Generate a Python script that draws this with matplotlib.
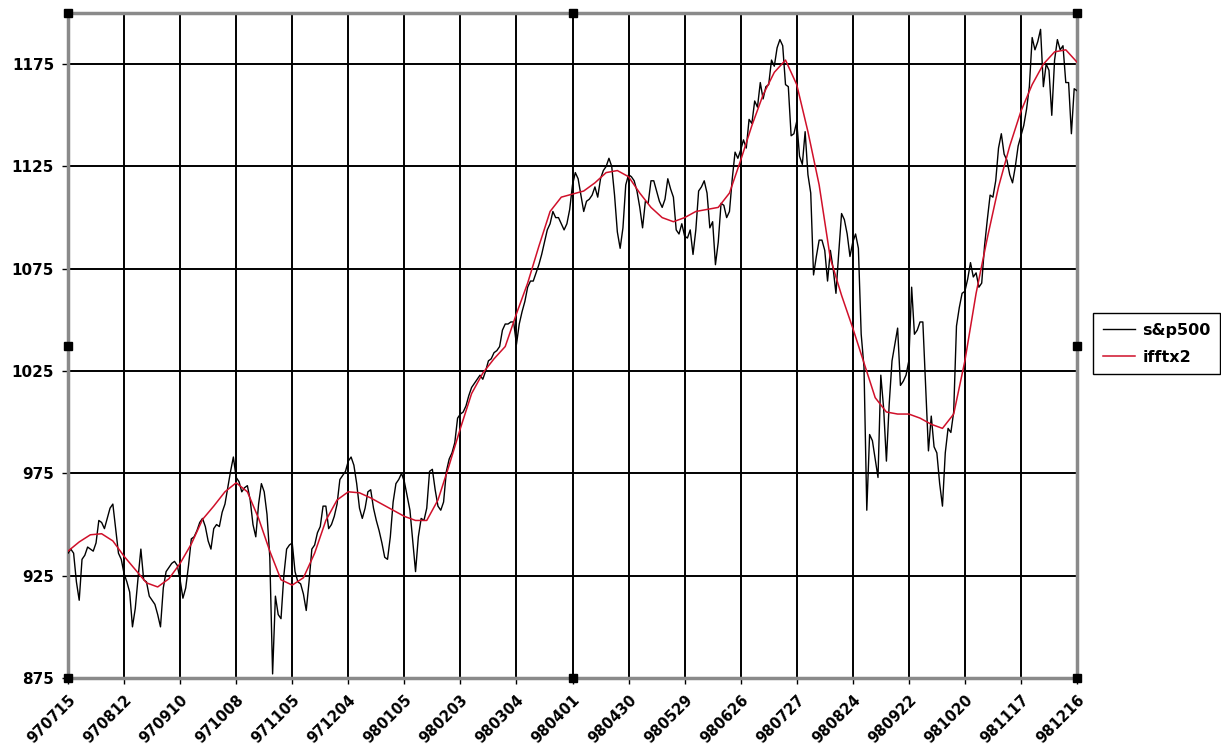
import matplotlib
matplotlib.use("Agg")
import matplotlib.pyplot as plt

plt.rcParams['font.family'] = ['DejaVu Sans']
plt.rcParams['font.weight'] = 'bold'

# trading-day tick labels, one every 20 sessions
tick_labels = ['970715', '970812', '970910', '971008', '971105', '971204',
               '980105', '980203', '980304', '980401', '980430', '980529',
               '980626', '980727', '980824', '980922', '981020', '981117',
               '981216']
tick_step = 20

# daily closes, one value per session
sp500 = [
    936, 938, 936, 922, 913, 933, 935, 939, 938, 937,
    941, 952, 951, 948, 953, 958, 960, 948, 936, 933,
    926, 922, 917, 900, 909, 924, 938, 923, 922, 915,
    913, 911, 906, 900, 919, 927, 929, 931, 932, 930,
    923, 914, 919, 930, 943, 944, 947, 951, 953, 949,
    942, 938, 948, 950, 949, 956, 960, 968, 976, 983,
    973, 971, 966, 968, 969, 962, 950, 944, 960, 970,
    966, 955, 934, 877, 915, 906, 904, 925, 938, 940,
    941, 927, 922, 921, 916, 908, 922, 938, 940, 946,
    949, 959, 959, 948, 950, 954, 960, 972, 974, 976,
    981, 983, 979, 970, 958, 953, 958, 966, 967, 958,
    952, 947, 941, 934, 933, 944, 961, 970, 972, 975,
    971, 964, 957, 942, 927, 944, 953, 952, 958, 976,
    977, 967, 959, 957, 961, 976, 982, 985, 990, 1002,
    1004, 1005, 1008, 1013, 1017, 1019, 1021, 1023, 1021, 1025,
    1030, 1031, 1034, 1035, 1037, 1045, 1048, 1048, 1049, 1049,
    1038, 1048, 1054, 1059, 1066, 1069, 1069, 1073, 1077, 1082,
    1088, 1094, 1097, 1103, 1100, 1100, 1097, 1094, 1097, 1104,
    1116, 1122, 1119, 1111, 1103, 1108, 1109, 1111, 1115, 1110,
    1119, 1123, 1125, 1129, 1125, 1111, 1093, 1085, 1095, 1116,
    1121, 1120, 1118, 1113, 1105, 1095, 1108, 1107, 1118, 1118,
    1113, 1108, 1105, 1109, 1119, 1114, 1110, 1094, 1092, 1097,
    1091, 1090, 1094, 1082, 1094, 1113, 1115, 1118, 1112, 1095,
    1098, 1077, 1088, 1107, 1106, 1100, 1103, 1119, 1132, 1129,
    1133, 1138, 1134, 1148, 1146, 1157, 1154, 1166, 1158, 1164,
    1165, 1177, 1174, 1183, 1187, 1184, 1165, 1164, 1140, 1141,
    1147, 1130, 1126, 1142, 1121, 1112, 1072, 1081, 1089, 1089,
    1084, 1069, 1084, 1075, 1063, 1083, 1102, 1099, 1092, 1081,
    1088, 1092, 1085, 1043, 1027, 957, 994, 991, 982, 973,
    1023, 1007, 981, 1009, 1030, 1038, 1046, 1018, 1020, 1023,
    1030, 1066, 1043, 1045, 1049, 1049, 1017, 986, 1003, 988,
    985, 970, 959, 985, 997, 995, 1005, 1047, 1056, 1063,
    1064, 1070, 1078, 1071, 1073, 1066, 1068, 1086, 1099, 1111,
    1110, 1118, 1134, 1141, 1131, 1128, 1121, 1117, 1125, 1135,
    1140, 1145, 1153, 1164, 1188, 1182, 1186, 1192, 1164, 1175,
    1172, 1150, 1177, 1187, 1182, 1184, 1166, 1166, 1141, 1163,
    1162,
]

# smoothed series, sampled every 4 sessions
ifft_step = 4
ifftx2 = [
    937, 941.5, 945, 945.5, 942, 934.5, 928, 921.5, 919.5, 923.5,
    931, 940.5, 952.5, 959, 966, 970.4, 966, 953, 937, 923,
    920.4, 924, 936, 952, 962, 966, 965.5, 963, 960, 957,
    954, 952, 952, 962, 979, 997, 1014, 1024, 1031, 1037,
    1053, 1068, 1086, 1103, 1110, 1111.5, 1113, 1117, 1122, 1123,
    1120, 1112, 1105, 1100, 1098, 1100, 1103, 1104, 1105, 1112,
    1128, 1145, 1160, 1171, 1177, 1165, 1142, 1116, 1080, 1062,
    1046, 1029, 1012, 1005, 1004, 1004, 1002, 999, 997, 1004,
    1030, 1063, 1090, 1115, 1135, 1152, 1165, 1175, 1181, 1182,
    1176,
]

days = list(range(len(sp500)))
ifft_days = [i * ifft_step for i in range(len(ifftx2))]

fig = plt.figure(figsize=(12.21, 7.48), dpi=100)
ax = fig.add_axes([68 / 1221, 1 - 678 / 748, 1009 / 1221, 665 / 748])

ax.plot(days, sp500, color='black', linewidth=1.0, label='s&p500', zorder=3)
ax.plot(ifft_days, ifftx2, color='#d0102a', linewidth=1.1, label='ifftx2', zorder=4)

ax.set_xlim(0, tick_step * (len(tick_labels) - 1))
ax.set_ylim(875, 1200)
ax.set_xticks([i * tick_step for i in range(len(tick_labels))])
ax.set_xticklabels(tick_labels, rotation=45, ha='right', va='top',
                   rotation_mode='anchor', fontsize=10.5, fontweight='bold')
ax.set_yticks([875, 925, 975, 1025, 1075, 1125, 1175])
ax.tick_params(axis='y', labelsize=11, length=4, width=1, pad=6)
ax.tick_params(axis='x', length=4, width=1, pad=6)
for lab in ax.get_yticklabels():
    lab.set_fontweight('bold')

ax.grid(True, color='black', linewidth=1.4)
ax.set_axisbelow(True)

# hatched frame around the plot area
for side in ax.spines.values():
    side.set_color('#8a8a8a')
    side.set_linewidth(2.5)
    side.set_linestyle((0, (1, 1)))

# small black handles on the frame
hx = [0, 0.5, 1, 0, 1, 0, 0.5, 1]
hy = [1, 1, 1, 0.5, 0.5, 0, 0, 0]
ax.plot(hx, hy, linestyle='none', marker='s', markersize=6, color='black',
        transform=ax.transAxes, clip_on=False, zorder=10)

leg = fig.legend(loc='upper left', bbox_to_anchor=(1093 / 1221, 1 - 313 / 748),
                 fancybox=False, framealpha=1, edgecolor='black',
                 prop={'weight': 'bold', 'size': 11.5}, handlelength=2.0,
                 borderpad=0.6, labelspacing=0.75, handletextpad=0.5,
                 borderaxespad=0)
leg.get_frame().set_linewidth(1.0)

fig.savefig('out.png', dpi=100)
